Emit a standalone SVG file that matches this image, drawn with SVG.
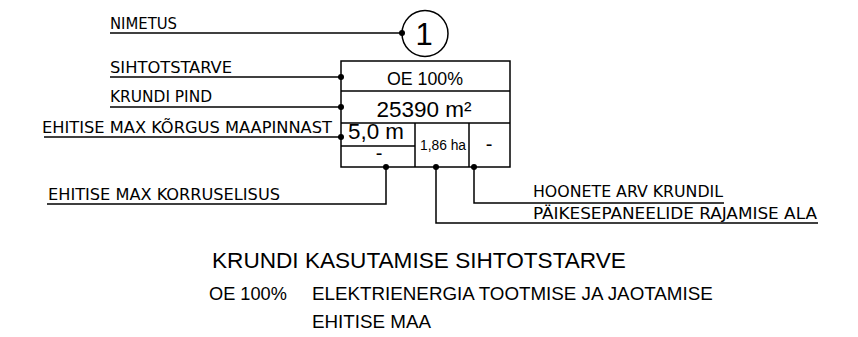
<svg xmlns="http://www.w3.org/2000/svg" width="858" height="337" viewBox="0 0 858 337">
<defs>
<style>
.ln{fill:none;stroke:#000;stroke-width:1.5}
.dot{fill:#000}
.cad{font-family:"DejaVu Sans Condensed","DejaVu Sans",sans-serif;font-size:16px;fill:#000}
.ar{font-family:"Liberation Sans",Arial,sans-serif;fill:#000}
</style>
</defs>
<rect width="858" height="337" fill="#fff"/>
<g id="connectors">
<polyline class="ln" points="110,33 402,33"/>
<polyline class="ln" points="110,77 341,77"/>
<polyline class="ln" points="110,107 341,107"/>
<polyline class="ln" points="44,137 341,137"/>
<polyline class="ln" points="47,204 386,204 386,167"/>
<polyline class="ln" points="474,167 474,203 724,203"/>
<polyline class="ln" points="436,167 436,223 818,223"/>
<circle class="dot" cx="402" cy="33" r="3"/>
<circle class="dot" cx="341" cy="77" r="3"/>
<circle class="dot" cx="341" cy="107" r="3"/>
<circle class="dot" cx="341" cy="137" r="3"/>
<circle class="dot" cx="386" cy="167" r="3"/>
<circle class="dot" cx="436" cy="167" r="3"/>
<circle class="dot" cx="474" cy="167" r="3"/>
</g>
<g id="labels">
<text class="cad" x="110" y="29" textLength="67" lengthAdjust="spacingAndGlyphs">NIMETUS</text>
<text class="cad" x="110" y="73" textLength="122" lengthAdjust="spacingAndGlyphs">SIHTOTSTARVE</text>
<text class="cad" x="110" y="102" textLength="102" lengthAdjust="spacingAndGlyphs">KRUNDI PIND</text>
<text class="cad" x="42" y="133" textLength="290" lengthAdjust="spacingAndGlyphs">EHITISE MAX KÕRGUS MAAPINNAST</text>
<text class="cad" x="48" y="200" textLength="232" lengthAdjust="spacingAndGlyphs">EHITISE MAX KORRUSELISUS</text>
<text class="cad" x="533" y="197" textLength="190" lengthAdjust="spacingAndGlyphs">HOONETE ARV KRUNDIL</text>
<text class="cad" x="533" y="219" textLength="284" lengthAdjust="spacingAndGlyphs">PÄIKESEPANEELIDE RAJAMISE ALA</text>
</g>
<g id="node-nimetus">
<circle class="ln" cx="425" cy="33.5" r="23"/>
<text class="ar" x="424" y="45" font-size="31" text-anchor="middle">1</text>
</g>
<g id="node-table">
<rect class="ln" x="341" y="61" width="169" height="106"/>
<line class="ln" x1="341" y1="91" x2="510" y2="91"/>
<line class="ln" x1="341" y1="123" x2="510" y2="123"/>
<line class="ln" x1="341" y1="146" x2="415" y2="146"/>
<line class="ln" x1="415" y1="123" x2="415" y2="167"/>
<line class="ln" x1="469" y1="123" x2="469" y2="167"/>
<text class="ar" x="425" y="85" font-size="17.8" text-anchor="middle">OE 100%</text>
<text class="ar" x="424" y="117" font-size="22.5" text-anchor="middle">25390 m²</text>
<text class="ar" x="348" y="139" font-size="22.4">5,0 m</text>
<text class="ar" x="379" y="160" font-size="20" text-anchor="middle">-</text>
<text class="ar" x="443" y="150" font-size="13.8" text-anchor="middle">1,86 ha</text>
<text class="ar" x="489" y="151" font-size="20" text-anchor="middle">-</text>
</g>
<g id="legend">
<text class="ar" x="212" y="268" font-size="22.6">KRUNDI KASUTAMISE SIHTOTSTARVE</text>
<text class="ar" x="209" y="300" font-size="18.2">OE 100%</text>
<text class="ar" x="312" y="300" font-size="18.8">ELEKTRIENERGIA TOOTMISE JA JAOTAMISE</text>
<text class="ar" x="312" y="328" font-size="18.8">EHITISE MAA</text>
</g>
</svg>
